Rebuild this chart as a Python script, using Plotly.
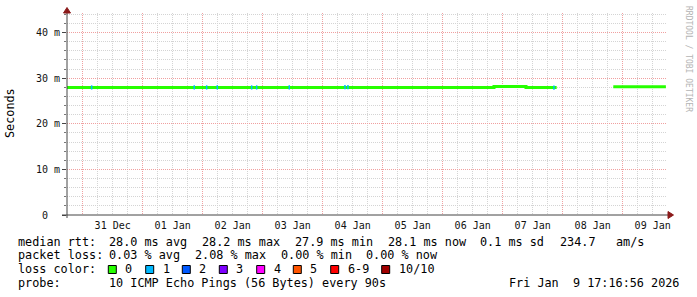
import plotly.graph_objects as go

# ---------------- data ----------------
# median rtt (ms), step series; None = no data
rtt_time = ["2025-12-30 17:44", "2026-01-06 20:32", "2026-01-07 09:20",
            "2026-01-07 21:36", "2026-01-07 21:37", "2026-01-08 20:15",
            "2026-01-09 17:17"]
rtt_ms = [27.98, 28.2, 27.95, 27.95, None, 28.15, 28.15]

# ping sets with packet loss (lost pings out of 10)
loss_time = ["2025-12-31 03:36", "2026-01-01 20:38", "2026-01-02 01:36",
             "2026-01-02 05:50", "2026-01-02 19:36", "2026-01-02 21:36",
             "2026-01-03 10:38", "2026-01-04 08:55", "2026-01-04 10:07",
             "2026-01-07 20:31"]
loss_rtt = [27.98, 27.98, 27.98, 27.98, 27.98, 27.98, 27.98, 28.05, 28.05, 27.95]
loss_count = [1, 1, 1, 1, 1, 1, 1, 1, 1, 1]

loss_labels = ["0", "1", "2", "3", "4", "5", "6-9", "10/10"]
loss_colors = ["#26ff00", "#00b8ff", "#0059ff", "#7e00ff", "#ff00ff",
               "#ff5500", "#ff0000", "#a10000"]

y_tickvals = [0, 10, 20, 30, 40]
y_ticktext = ["0\u00a0\u00a0", "10 m", "20 m", "30 m", "40 m"]
y_minor = [v for v in range(2, 45, 2)]

x_range = ["2025-12-30 17:44", "2026-01-09 17:44"]
y_range = [0, 44.3]

stats_rows = [
    [("median rtt:", 16), ("28.0 ms avg", 107.3), ("28.2 ms max", 200.3),
     ("27.9 ms min", 292.7), ("28.1 ms now", 386), ("0.1 ms sd", 478.3),
     ("234.7", 558.3), ("am/s", 614.3)],
    [("packet loss:", 16), ("0.03 % avg", 107.3), ("2.08 % max", 193),
     ("0.00 % min", 278.5), ("0.00 % now", 364)],
]
probe_text = "10 ICMP Echo Pings (56 Bytes) every 90s"
stamp_text = "Fri Jan  9 17:16:56 2026"

# ---------------- layout geometry ----------------
W, H = 697, 297
L, R, T, B = 67, 667, 13, 215
FONT = "DejaVu Sans Mono"


def px(x):
    return (x - L) / (R - L)


def py(y):
    return (B - y) / (B - T)


def nb(s):
    return s.replace(" ", "\u00a0")


def loss_color(n):
    idx = {0: 0, 1: 1, 2: 2, 3: 3, 4: 4, 5: 5, 10: 7}.get(n, 6)
    return loss_colors[idx]


fig = go.Figure()
fig.add_trace(go.Scatter(
    x=rtt_time, y=rtt_ms, mode="lines", line=dict(color=loss_colors[0], width=3, shape="hv"),
    connectgaps=False, hoverinfo="skip", showlegend=False))
fig.add_trace(go.Scatter(
    x=loss_time, y=loss_rtt, mode="markers",
    marker=dict(symbol="line-ns", size=3,
                line=dict(color=[loss_color(c) for c in loss_count], width=1.5)),
    hoverinfo="skip", showlegend=False))

grid_major = "#f0a0a0"
grid_minor = "#d4d4d4"

fig.update_xaxes(
    type="date", range=x_range, tick0="2025-12-31", dtick=86400000,
    tickformat="%d %b", ticklabelmode="period", ticks="", ticklabelstandoff=3,
    showgrid=True, gridcolor=grid_major, griddash="1px,1px", gridwidth=1,
    minor=dict(dtick=21600000, tick0="2025-12-31", showgrid=True,
               gridcolor=grid_minor, griddash="1px,1px"),
    showline=False, zeroline=False,
    tickfont=dict(family=FONT, size=10, color="#111"),
)
fig.update_yaxes(
    range=y_range, tickmode="array", tickvals=y_tickvals, ticktext=y_ticktext,
    ticks="outside", ticklen=4, tickcolor="#444",
    showgrid=True, gridcolor=grid_major, griddash="1px,1px",
    minor=dict(tickmode="array", tickvals=y_minor, showgrid=True,
               gridcolor=grid_minor, griddash="1px,1px",
               ticks="outside", ticklen=2, tickcolor="#777"),
    showline=False, zeroline=False,
    tickfont=dict(family=FONT, size=10, color="#111"),
)

shapes = []
# axis lines
shapes.append(dict(type="line", xref="paper", yref="paper", x0=px(67), x1=px(67),
                   y0=py(218), y1=py(11), line=dict(color="#444", width=1)))
shapes.append(dict(type="line", xref="paper", yref="paper", x0=px(62), x1=px(670),
                   y0=py(215), y1=py(215), line=dict(color="#444", width=1)))
# arrows
shapes.append(dict(type="path", xref="paper", yref="paper",
                   path=f"M {px(63.5)},{py(13)} L {px(70.5)},{py(13)} L {px(67)},{py(7.5)} Z",
                   fillcolor="#8b1a1a", line=dict(color="#8b1a1a", width=1)))
shapes.append(dict(type="path", xref="paper", yref="paper",
                   path=f"M {px(668)},{py(211.5)} L {px(668)},{py(218.5)} L {px(673.5)},{py(215)} Z",
                   fillcolor="#8b1a1a", line=dict(color="#8b1a1a", width=1)))

ann = []
fs = 11.8
for row, yy in zip(stats_rows, [241.7, 255]):
    for txt, xx in row:
        ann.append(dict(text=nb(txt), x=px(xx), y=py(yy), xref="paper", yref="paper",
                        xanchor="left", yanchor="middle", showarrow=False,
                        font=dict(family=FONT, size=fs, color="#000")))
# loss color legend
ann.append(dict(text=nb("loss color:"), x=px(16), y=py(269.3), xref="paper", yref="paper",
                xanchor="left", yanchor="middle", showarrow=False,
                font=dict(family=FONT, size=fs, color="#000")))
box_x = [108.3, 145.7, 182.3, 219.3, 256.7, 293.3, 330.7, 381.7]
for bx, lab, col in zip(box_x, loss_labels, loss_colors):
    shapes.append(dict(type="rect", xref="paper", yref="paper",
                       x0=px(bx), x1=px(bx + 8), y0=py(273.5), y1=py(265.5),
                       fillcolor=col, line=dict(color="#000", width=1)))
    ann.append(dict(text=nb(lab), x=px(bx + 15), y=py(269.3), xref="paper", yref="paper",
                    xanchor="left", yanchor="middle", showarrow=False,
                    font=dict(family=FONT, size=fs, color="#000")))
# probe row
ann.append(dict(text=nb("probe:"), x=px(16), y=py(282.7), xref="paper", yref="paper",
                xanchor="left", yanchor="middle", showarrow=False,
                font=dict(family=FONT, size=fs, color="#000")))
ann.append(dict(text=nb(probe_text), x=px(107.3), y=py(282.7), xref="paper", yref="paper",
                xanchor="left", yanchor="middle", showarrow=False,
                font=dict(family=FONT, size=fs, color="#000")))
ann.append(dict(text=nb(stamp_text), x=px(681), y=py(282.7), xref="paper", yref="paper",
                xanchor="right", yanchor="middle", showarrow=False,
                font=dict(family=FONT, size=fs, color="#000")))
# axis title
ann.append(dict(text="Seconds", x=px(10), y=py(113), xref="paper", yref="paper",
                xanchor="center", yanchor="middle", textangle=-90, showarrow=False,
                font=dict(family=FONT, size=fs, color="#000")))
# watermark
ann.append(dict(text=nb("RRDTOOL / TOBI OETIKER"), x=px(688), y=py(59), xref="paper", yref="paper",
                xanchor="center", yanchor="middle", textangle=90, showarrow=False,
                font=dict(family=FONT, size=8, color="#b4b4b4")))

fig.update_layout(
    width=W, height=H, margin=dict(l=L, r=W - R, t=T, b=H - B),
    paper_bgcolor="white", plot_bgcolor="white",
    shapes=shapes, annotations=ann, showlegend=False,
)
fig.write_html("out.html")
